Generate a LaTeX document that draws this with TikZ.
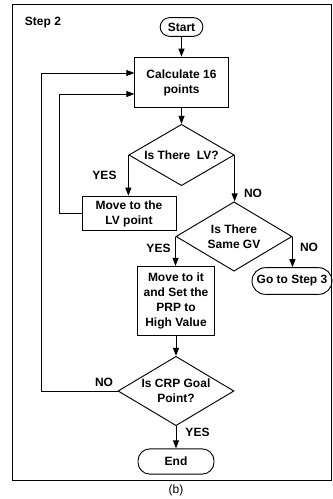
\documentclass[tikz,border=0pt]{standalone}
\usepackage{fontspec}
\setmainfont{Liberation Sans}
\usetikzlibrary{arrows.meta,shapes.geometric}

\begin{document}
\begin{tikzpicture}[x=0.75pt,y=-0.75pt,>={Triangle[length=6pt,width=4.5pt]},
  every node/.style={font=\bfseries\fontsize{9}{11.25}\selectfont,align=center,inner sep=0pt},
  box/.style={draw,line width=0.7pt,rectangle},
  term/.style={draw,line width=0.7pt,rounded corners=#1},
  ask/.style={draw,line width=0.7pt,diamond,aspect=1.7},
  flow/.style={->,line width=0.7pt}]
  \useasboundingbox (0,0) rectangle (332,499);
  \draw[line width=0.6pt] (12,4) rectangle (331,480);
  \node (steplbl) at (43,23) {Step 2};
  \node[term=7pt,minimum width=32pt,minimum height=14pt] (start) at (181.5,27) {Start};
  \node[box,minimum width=70pt,minimum height=38pt] (calc) at (181.5,82.5) {Calculate 16\\points};
  \node[ask,minimum width=79pt,minimum height=46pt] (lv) at (181.5,155) {Is There~ LV?};
  \node[box,minimum width=70.5pt,minimum height=26pt] (movelv) at (129,213.5) {Move to the\\LV point};
  \node[ask,minimum width=87pt,minimum height=52pt] (gv) at (234,236.5) {Is There\\Same GV};
  \node[box,minimum width=58pt,minimum height=52pt] (moveit) at (176,301) {Move to it\\and Set the\\PRP to\\High Value};
  \node[term=10pt,minimum width=60pt,minimum height=20pt] (step3) at (292,281) {Go to Step 3};
  \node[ask,minimum width=87pt,minimum height=52pt] (goal) at (176,391) {Is CRP Goal\\Point?};
  \node[term=9pt,minimum width=57pt,minimum height=19pt] (finish) at (176,461.5) {End};
  \node[font=\fontsize{9}{11}\selectfont] (caption) at (176,490) {(b)};
  \draw[flow] (start) -- (calc);
  \draw[flow] (calc) -- (lv);
  \draw[flow] (lv.west) -- (lv.west |- movelv.north);
  \draw[flow] (lv.east) -- (lv.east |- gv.north);
  \draw[flow] (gv.west) -- (gv.west |- moveit.north);
  \draw[flow] (gv.east) -- (gv.east |- step3.north);
  \draw[flow] (moveit) -- (goal);
  \draw[flow] (goal) -- (finish);
  \coordinate (backlv) at (59,94);
  \draw[flow] (movelv.west) -| (backlv) -- (backlv -| calc.west);
  \coordinate (backgoal) at (41,73);
  \draw[flow] (goal.west) -| (backgoal) -- (backgoal -| calc.west);
  \node (yeslv) at (104.5,175) {YES};
  \node (nolv) at (253,193) {NO};
  \node (yesgv) at (158.5,248) {YES};
  \node (nogv) at (309,247) {NO};
  \node (nogoal) at (104,382) {NO};
  \node (yesgoal) at (197.5,432) {YES};
\end{tikzpicture}
\end{document}
